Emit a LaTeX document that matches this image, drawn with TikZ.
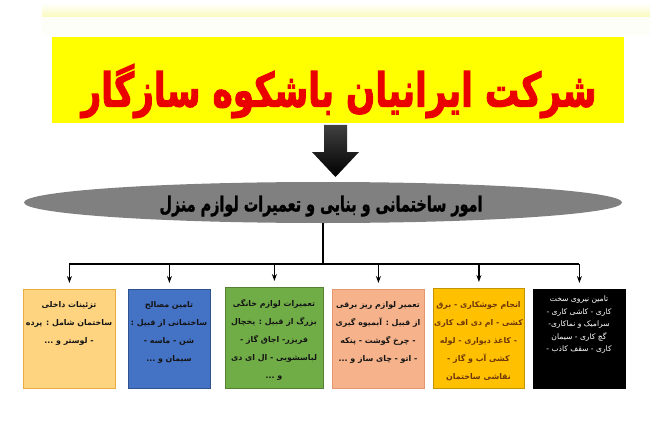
\documentclass[tikz,border=0pt]{standalone}
\usepackage{fontspec}
\usetikzlibrary{shapes.geometric,arrows.meta}
\TeXXeTstate=1
\newfontfamily\fa[Script=Arabic]{DejaVu Sans}
\newfontfamily\fahv[Script=Arabic,FakeBold=2.5]{DejaVu Sans Bold}
\newfontfamily\fahm[Script=Arabic,FakeBold=1.5]{DejaVu Sans Bold}
\definecolor{titlered}{RGB}{235,0,0}
\definecolor{banneryel}{RGB}{255,255,0}
\definecolor{ellgray}{RGB}{128,128,128}
\definecolor{stripyel}{RGB}{250,250,190}
\definecolor{paleyel}{RGB}{254,254,248}
\definecolor{cAf}{RGB}{254,212,128}\definecolor{cAd}{RGB}{232,172,64}
\definecolor{cBf}{RGB}{68,114,196}\definecolor{cBd}{RGB}{47,82,143}
\definecolor{cCf}{RGB}{112,173,71}\definecolor{cCd}{RGB}{84,130,53}
\definecolor{cDf}{RGB}{246,178,138}\definecolor{cDd}{RGB}{228,150,110}
\definecolor{cEf}{RGB}{255,192,0}\definecolor{cEd}{RGB}{196,148,0}
\definecolor{cEt}{RGB}{110,55,10}
\definecolor{darktxt}{RGB}{20,20,20}
\begin{document}
\begin{tikzpicture}[x=1pt,y=-1pt,
  boxnode/.style={draw,line width=0.8pt,minimum width=92pt,minimum height=99pt,inner sep=0pt,anchor=north west},
  boxtxt/.style={anchor=north,align=center,inner sep=0pt,text=darktxt,font=\fa\bfseries\fontsize{7.9}{18}\selectfont},
  conn/.style={line width=1.4pt,black},
  drop/.style={conn,-{Stealth[length=7pt,width=5pt]},shorten >=6pt}]
\useasboundingbox (0,0) rectangle (650,433);
\fill[white] (0,0) rectangle (650,433);
\shade[top color=white,bottom color=stripyel] (42,3) rectangle (650,17);
\fill[paleyel] (42,17) rectangle (650,35);
% banner
\node[fill=banneryel,minimum width=572pt,minimum height=86pt,inner sep=0pt,anchor=north west] (banner) at (52,37) {};
\node[text=titlered,inner sep=0pt] (title) at (339,91) {\resizebox*{515pt}{54pt}{\fahv\beginR شرکت ایرانیان باشکوه سازگار\endR}};
% big arrow
\coordinate (aTop) at (335.5,125);
\coordinate (aTip) at (335.5,177);
\shade[top color=black!75,bottom color=black] (324,125) -- (347,125) -- (347,152) -- (359,152) -- (aTip) -- (312,152) -- (324,152) -- cycle;
% ellipse
\node[ellipse,fill=ellgray,minimum width=598pt,minimum height=41pt,inner sep=0pt] (ell) at (323,202.5) {};
\node[inner sep=0pt] (elltxt) at (321,206) {\resizebox*{323pt}{21pt}{\fahm\beginR امور ساختمانی و بنایی و تعمیرات لوازم منزل\endR}};
% boxes
\node[boxnode,fill=cAf,draw=cAd] (b1) at (23,289) {};
\node[boxnode,fill=cBf,draw=cBd,minimum width=82pt] (b2) at (128,289) {};
\node[boxnode,fill=cCf,draw=cCd,minimum width=98pt,minimum height=101pt] (b3) at (225,287) {};
\node[boxnode,fill=cDf,draw=cDd] (b4) at (332,289) {};
\node[boxnode,fill=cEf,draw=cEd,minimum width=91pt,minimum height=100pt] (b5) at (433,288) {};
\node[boxnode,fill=black,draw=black] (b6) at (533,289) {};
% box texts
\node[boxtxt] (t1) at (69,301) {\beginR تزئینات داخلی\endR\\ \beginR ساختمان شامل : پرده\endR\\ \beginR - لوستر و ...\endR};
\node[boxtxt] (t2) at (169,301) {\beginR تامین مصالح\endR\\ \beginR ساختمانی از قبیل :\endR\\ \beginR شن - ماسه -\endR\\ \beginR سیمان و ...\endR};
\node[boxtxt] (t3) at (274,299) {\beginR تعمیرات لوازم خانگی\endR\\ \beginR بزرگ از قبیل : یخچال\endR\\ \beginR فریزر- اجاق گاز -\endR\\ \beginR لباسشویی - ال ای دی\endR\\ \beginR و ...\endR};
\node[boxtxt] (t4) at (378,301) {\beginR تعمیر لوازم ریز برقی\endR\\ \beginR از قبیل : آبمیوه گیری\endR\\ \beginR - چرخ گوشت - پنکه\endR\\ \beginR - اتو - چای ساز و ...\endR};
\node[boxtxt,text=cEt] (t5) at (478.5,301) {\beginR انجام جوشکاری - برق\endR\\ \beginR کشی - ام دی اف کاری\endR\\ \beginR - کاغذ دیواری - لوله\endR\\ \beginR کشی آب و گاز -\endR\\ \beginR نقاشی ساختمان\endR};
\node[boxtxt,text=white,font=\fa\fontsize{7.6}{12.5}\selectfont] (t6) at (579,296) {\beginR تامین نیروی سخت\endR\\ \beginR کاری - کاشی کاری -\endR\\ \beginR سرامیک و نماکاری-\endR\\ \beginR گچ کاری - سیمان\endR\\ \beginR کاری - سقف کاذب -\endR};
% connectors
\coordinate (jn) at (323,264);
\draw[conn] (ell.south) -- (jn);
\draw[conn] (b1.north |- jn) -- (b6.north |- jn);
\foreach \b in {b1,b2,b3,b4,b5,b6} \draw[drop] (\b.north |- jn) -- (\b.north);
\end{tikzpicture}
\end{document}
